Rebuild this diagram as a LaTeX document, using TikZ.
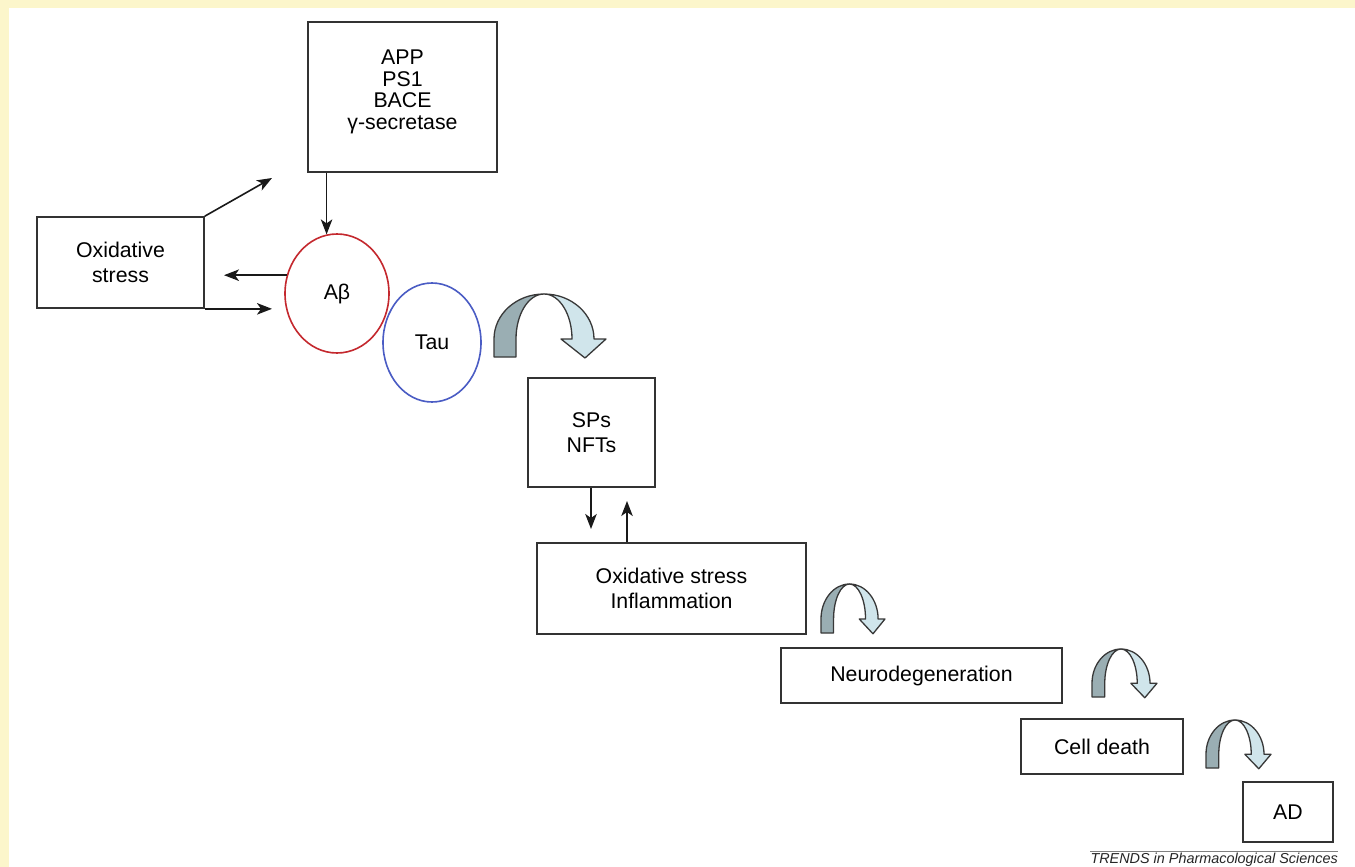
\documentclass[tikz,border=0pt]{standalone}
\usepackage{fontspec}
\setmainfont{Liberation Sans}
\usetikzlibrary{arrows.meta,shapes.geometric}
\definecolor{bgy}{HTML}{FCF6CB}
\definecolor{boxc}{HTML}{333333}
\definecolor{abred}{HTML}{C4282E}
\definecolor{taublue}{HTML}{4A5CC4}
\definecolor{cdark}{HTML}{9AAEB3}
\definecolor{clight}{HTML}{D0E5EB}
\definecolor{coutl}{HTML}{383838}
\tikzset{
  carrow/.pic={
    \filldraw[fill=cdark, draw=coutl, line width=1.3pt, line join=round]
      (0,63) -- (0,45) arc[start angle=180, end angle=270, x radius=50, y radius=45]
      arc[start angle=270, end angle=180, x radius=28, y radius=45] -- (22,63) -- cycle;
    \filldraw[fill=clight, draw=coutl, line width=1.3pt, line join=round]
      (50,0) arc[start angle=270, end angle=360, x radius=50, y radius=45]
      -- (112,45) -- (91,64) -- (67,45) -- (78,45)
      arc[start angle=0, end angle=-90, x radius=28, y radius=45] -- cycle;
  }
}
\begin{document}
\begin{tikzpicture}[x=1pt, y=-1pt,
  box/.style={draw=boxc, line width=1.7pt, rectangle, inner sep=0pt, align=center,
              font=\fontsize{21.3}{25.5}\selectfont},
  txt/.style={inner sep=0pt, align=center, font=\fontsize{21.3}{21.7}\selectfont},
  oval/.style={ellipse, line width=1.6pt, inner sep=0pt, font=\fontsize{21.3}{25.5}\selectfont},
  arr/.style={draw=black!90, line width=1.6pt, -{Stealth[length=15pt, width=11.5pt, inset=4pt]}}
]
\useasboundingbox (0,0) rectangle (1355,867);
\fill[white] (0,0) rectangle (1355,867);
\fill[bgy] (0,0) rectangle (1355,8);
\fill[bgy] (0,0) rectangle (9,867);

% boxes
\node[box, minimum width=189, minimum height=150] (app) at (402.5,97) {};
\node[txt] (apptxt) at (402.5,92) {APP\\PS1\\BACE\\γ-secretase};
\node[box, minimum width=167, minimum height=91] (ox1) at (120.5,262.5) {Oxidative\\stress};
\node[box, minimum width=127, minimum height=109] (sp) at (591.5,432.5) {SPs\\NFTs};
\node[box, minimum width=269, minimum height=91] (ox2) at (671.5,588.5) {Oxidative stress\\Inflammation};
\node[box, minimum width=281, minimum height=55] (neuro) at (921.5,675.5) {Neurodegeneration};
\node[box, minimum width=162, minimum height=55] (cell) at (1102,746.5) {Cell death};
\node[box, minimum width=90, minimum height=60] (ad) at (1288,812) {AD};

% ellipses
\node[oval, draw=taublue, minimum width=98, minimum height=119] (tau) at (432,342.5) {Tau};
\node[oval, draw=abred, minimum width=104, minimum height=119] (ab) at (337,293.5) {Aβ};

% connectors
\coordinate (e1) at (272,178);
\coordinate (e2) at (224,275.6);
\coordinate (e3) at (272,308);
\coordinate (d1) at (591,529);
\coordinate (u1) at (627,501);
\draw[arr] (app.south -| ab.100) -- (ab.100);
\draw[arr] (ox1.north east) -- (e1);
\draw[arr] (ab.160) -- (ab.160 -| e2);
\draw[arr] (ox1.south east) -- (ox1.south east -| e3);
\draw[arr] (sp.south -| d1) -- (d1);
\draw[arr] (ox2.north -| u1) -- (u1);

% curved arrows
\pic at (494,294) {carrow};
\pic[xscale=0.571, yscale=0.778] at (821,584) {carrow};
\pic[xscale=0.58, yscale=0.762] at (1092,649) {carrow};
\pic[xscale=0.58, yscale=0.762] at (1206,720) {carrow};

% footer
\node[anchor=base east, inner sep=0pt, text=black!85,
      font=\fontsize{14.4}{16}\selectfont\itshape] (foot) at (1338,863) {TRENDS in Pharmacological Sciences};
\coordinate (fl) at (1338,851);
\draw[black!50, line width=0.9pt] (fl -| foot.west) -- (fl);
\end{tikzpicture}
\end{document}
